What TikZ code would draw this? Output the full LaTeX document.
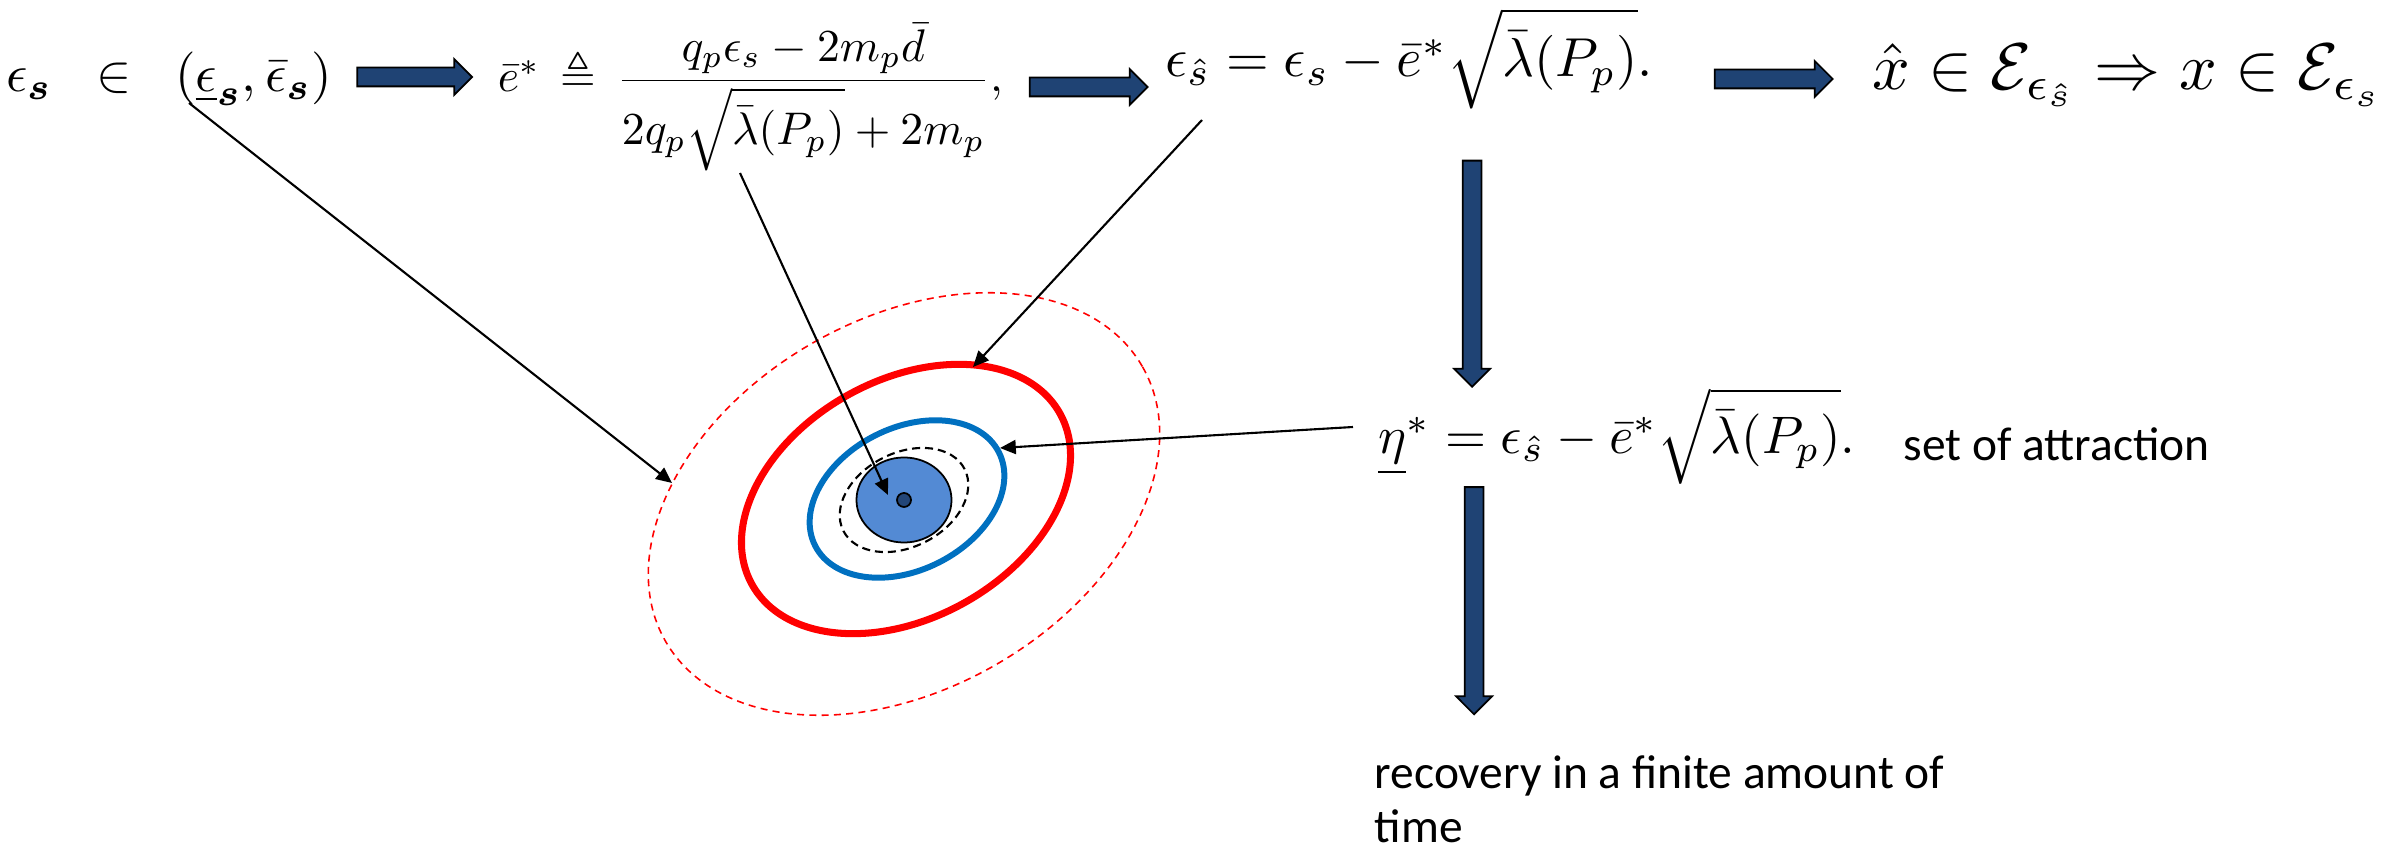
\documentclass[tikz,border=0pt]{standalone}
\usepackage{amsmath,amssymb}
\usepackage{fontspec}
\newfontfamily\calibri{Carlito}
\usetikzlibrary{arrows.meta, positioning, shapes.geometric, shapes.arrows}

\definecolor{arrowblue}{RGB}{31,67,116}
\definecolor{setblue}{RGB}{0,112,192}
\definecolor{coreblue}{RGB}{83,138,212}
\definecolor{dotblue}{RGB}{35,70,120}

\begin{document}
\begin{tikzpicture}[
        x=0.01cm, y=-0.01cm,
        eqn/.style={inner sep=0pt, anchor=base west},
        label text/.style={inner sep=0pt, anchor=base west, align=left, font=\calibri\fontsize{13.5}{15.6}\selectfont},
        fatarrow/.style={single arrow, draw=black, line width=0.5pt, fill=arrowblue,
            inner xsep=0pt, inner ysep=0.85mm, single arrow head extend=0.85mm, single arrow tip angle=90},
        set/.style={ellipse, inner sep=0pt},
        pointer/.style={-{Triangle[length=4.5pt, width=4pt]}, line width=0.6pt, black}
    ]
        \useasboundingbox (0,0) rectangle (2405,852);
        % equations on the top row
        \node[eqn, scale=1.5] (eps) at (5,92)
            {$\epsilon_{\boldsymbol{s}}\;\;\in\;\;(\underline{\epsilon}_{\boldsymbol{s}},\bar{\epsilon}_{\boldsymbol{s}})$};
        \node[eqn, scale=1.3] (ebar) at (497,92)
            {$\bar{e}^{*}\,\triangleq\,\dfrac{q_p\epsilon_s-2m_p\bar{d}}{2q_p\sqrt{\bar{\lambda}(P_p)}+2m_p},$};
        \node[eqn, scale=1.56] (ehat) at (1164,77)
            {$\epsilon_{\hat{s}}=\epsilon_s-\bar{e}^{*}\sqrt{\bar{\lambda}(P_p)}.$};
        \node[eqn, scale=1.88] (incl) at (1871,90)
            {$\hat{x}\in\mathcal{E}_{\epsilon_{\hat{s}}}\Rightarrow x\in\mathcal{E}_{\epsilon_s}$};
        \node[eqn, scale=1.5] (eta) at (1377,454)
            {$\underline{\eta}^{*}=\epsilon_{\hat{s}}-\bar{e}^{*}\sqrt{\bar{\lambda}(P_p)}.$};
        \node[label text] (attr) at (1903,461) {set of attraction};
        \node[label text] (recov) at (1374,843) {recovery in a finite amount of\\time};

        % block arrows
        \node[fatarrow, minimum height=11.5mm] (a1) at (410,77) {};
        \node[fatarrow, minimum height=11.8mm] (a2) at (1084,87) {};
        \node[fatarrow, minimum height=11.8mm] (a3) at (1769,79) {};
        \node[fatarrow, minimum height=22.6mm, rotate=-90] (a4) at (1472,269) {};
        \node[fatarrow, minimum height=22.7mm, rotate=-90] (a5) at (1474,596) {};

        % nested sets
        \node[set, draw=red, line width=0.45pt, dash pattern=on 2pt off 1.5pt,
            minimum width=5.5cm, minimum height=3.7cm, rotate=30] (outer) at (904,504) {};
        \node[set, draw=red, line width=2pt,
            minimum width=3.52cm, minimum height=2.38cm, rotate=29] (redset) at (906,499) {};
        \node[set, draw=setblue, line width=1.7pt,
            minimum width=2.06cm, minimum height=1.42cm, rotate=27] (blueset) at (907,499) {};
        \node[set, draw=black, line width=0.6pt, dash pattern=on 2.3pt off 1.4pt,
            minimum width=1.36cm, minimum height=0.94cm, rotate=27] (inner) at (904,500) {};
        \node[set, draw=black, line width=0.5pt, fill=coreblue,
            minimum width=0.95cm, minimum height=0.85cm] (core) at (904,500) {};
        \node[circle, draw=black, line width=0.5pt, fill=dotblue, inner sep=0pt, minimum size=0.14cm] (dot) at (904,500) {};

        % pointers
        \coordinate (sEps) at (189,103);
        \coordinate (sEbar) at (740,173);
        \coordinate (sEhat) at (1202,120);
        \coordinate (sEta) at (1353,427);
        \coordinate (tOuter) at (672,483);
        \coordinate (tCore) at (888,495);
        \coordinate (tRed) at (973,367);
        \coordinate (tBlue) at (1000,448);
        \draw[pointer] (sEps) -- (tOuter);
        \draw[pointer] (sEbar) -- (tCore);
        \draw[pointer] (sEhat) -- (tRed);
        \draw[pointer] (sEta) -- (tBlue);
    \end{tikzpicture}
\end{document}
